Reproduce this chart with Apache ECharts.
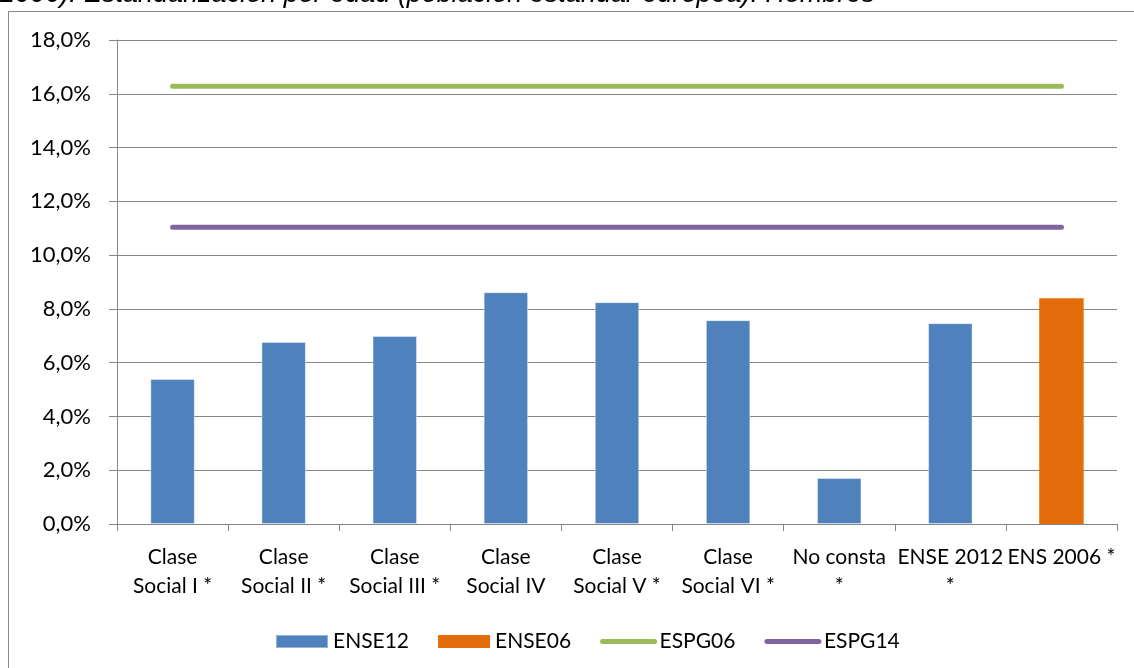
<!DOCTYPE html>
<html>
<head>
<meta charset="utf-8">
<script src="https://cdn.jsdelivr.net/npm/echarts@6/dist/echarts.min.js"></script>
<style>
html,body{margin:0;padding:0;background:#fff;}
#c{width:1134px;height:668px;}
</style>
</head>
<body>
<div id="c"></div>
<script>
const categories = ['Clase\nSocial I *', 'Clase\nSocial II *', 'Clase\nSocial III *', 'Clase\nSocial IV', 'Clase\nSocial V *', 'Clase\nSocial VI *', 'No consta\n*', 'ENSE 2012\n*', 'ENS 2006 *'];
const ENSE12 = [5.39, 6.77, 6.99, 8.62, 8.25, 7.58, 1.71, 7.47, null];
const ENSE06 = [null, null, null, null, null, null, null, null, 8.40];
const ESPG06 = [16.28, 16.28, 16.28, 16.28, 16.28, 16.28, 16.28, 16.28, 16.28];
const ESPG14 = [11.04, 11.04, 11.04, 11.04, 11.04, 11.04, 11.04, 11.04, 11.04];
const yTicks = { min: 0, max: 18, interval: 2 };
const titleText = '2006). Estandarización por edad (población estándar europea). Hombres';

const chart = echarts.init(document.getElementById('c'));
const FONT = 'Lato';
const GRID = '#868686';
chart.setOption({
  animation: false,
  backgroundColor: '#fff',
  textStyle: { fontFamily: FONT },
  graphic: [
    { type: 'rect', shape: { x: 8.5, y: 11.5, width: 1140, height: 700 }, style: { fill: 'none', stroke: '#888', lineWidth: 1 }, z: -1 },
    { type: 'text', x: 0, y: 8, style: { text: titleText, font: 'italic 27px "Liberation Sans", Arial', fill: '#000', textVerticalAlign: 'bottom', textAlign: 'left' } }
  ],
  grid: { left: 117, right: 17, top: 40, bottom: 144 },
  legend: {
    top: 626,
    left: 270,
    itemGap: 29,
    itemWidth: 52,
    itemHeight: 13,
    textStyle: { fontFamily: FONT, fontSize: 21, color: '#000' },
    data: [
      { name: 'ENSE12', icon: 'rect' },
      { name: 'ENSE06', icon: 'rect' },
      { name: 'ESPG06', itemStyle: { opacity: 0 }, lineStyle: { width: 5, cap: 'round', color: '#9BBB59' } },
      { name: 'ESPG14', itemStyle: { opacity: 0 }, lineStyle: { width: 5, cap: 'round', color: '#8064A2' } }
    ]
  },
  xAxis: {
    type: 'category',
    data: categories,
    axisLine: { lineStyle: { color: GRID, width: 1 } },
    axisTick: { show: true, alignWithLabel: false, length: 7, lineStyle: { color: GRID } },
    axisLabel: { interval: 0, color: '#000', fontFamily: FONT, fontSize: 21, lineHeight: 29, margin: 19 }
  },
  yAxis: {
    type: 'value',
    min: yTicks.min, max: yTicks.max, interval: yTicks.interval,
    axisLine: { show: true, lineStyle: { color: GRID, width: 1 } },
    axisTick: { show: true, length: 8, lineStyle: { color: GRID } },
    splitLine: { show: true, lineStyle: { color: GRID, width: 1 } },
    axisLabel: { color: '#000', fontFamily: FONT, fontSize: 22, margin: 26, formatter: v => v.toFixed(1).replace('.', ',') + '%' }
  },
  series: [
    { name: 'ENSE12', type: 'bar', stack: 's', data: ENSE12, barWidth: '40%', itemStyle: { color: '#4F81BD', borderColor: 'rgba(255,255,255,0.4)', borderWidth: 1 } },
    { name: 'ENSE06', type: 'bar', stack: 's', data: ENSE06, barWidth: '40%', itemStyle: { color: '#E46C0A' } },
    { name: 'ESPG06', type: 'line', data: ESPG06, symbol: 'none', showSymbol: false, lineStyle: { color: '#9BBB59', width: 5, cap: 'round' }, itemStyle: { color: '#9BBB59' } },
    { name: 'ESPG14', type: 'line', data: ESPG14, symbol: 'none', showSymbol: false, lineStyle: { color: '#8064A2', width: 5, cap: 'round' }, itemStyle: { color: '#8064A2' } }
  ]
});
</script>
</body>
</html>
